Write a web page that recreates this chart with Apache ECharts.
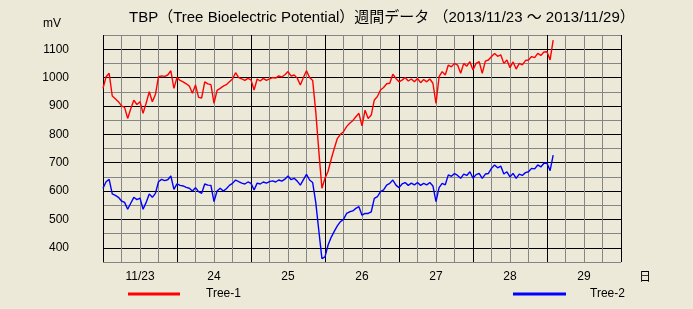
<!DOCTYPE html>
<html><head><meta charset="utf-8">
<script src="https://cdn.jsdelivr.net/npm/echarts@6/dist/echarts.min.js"></script>
<style>html,body{margin:0;padding:0;background:#ECE9D8}#c{width:693px;height:309px}</style>
</head><body><div id="c"></div>
<script>
// x labels: one per day band
const dayLabels = ['11/23', '24', '25', '26', '27', '28', '29'];
// y tick labels (mV)
const yTicks = [400, 500, 600, 700, 800, 900, 1000, 1100];
// hourly readings starting 11/23 00:00
const tree1 = [
  962,1003,1015,935,925,915,900,895,856,890,
  920,905,915,874,910,950,915,940,1003,1006,
  1004,1009,1024,962,1000,990,985,978,970,945,
  974,930,928,985,978,975,909,955,962,970,
  975,985,995,1017,1000,995,990,997,992,956,
  995,988,997,990,995,1000,998,1006,1002,1010,
  1021,1005,1009,998,974,1000,1024,1000,990,880,
  740,610,645,670,712,750,785,800,809,827,
  839,848,862,874,830,885,856,868,921,933,
  956,965,978,980,1012,997,985,991,1000,988,
  995,985,997,982,993,985,995,980,909,1003,
  1021,1009,1044,1038,1050,1044,1015,1050,1040,1056,
  1027,1050,1056,1015,1058,1062,1074,1085,1075,1080,
  1050,1062,1035,1055,1030,1050,1045,1060,1062,1074,
  1070,1085,1078,1090,1091,1062,1132
];
const tree2 = [
  610,633,641,590,585,578,565,560,536,557,
  578,570,575,536,560,590,578,592,633,641,
  637,640,653,606,625,620,618,613,610,600,
  612,598,592,625,621,620,563,600,610,600,
  608,620,627,639,633,628,625,632,627,604,
  628,625,632,628,633,636,632,639,635,642,
  653,640,645,635,621,640,659,639,630,560,
  460,362,368,410,437,458,477,492,500,521,
  527,530,539,545,515,521,521,527,574,580,
  598,604,621,627,639,621,612,625,630,620,
  628,622,630,620,627,622,630,618,563,612,
  627,622,657,652,662,655,645,660,655,668,
  645,658,662,645,660,662,680,692,682,688,
  660,668,650,662,645,660,655,665,668,680,
  678,692,685,698,698,672,727
];

const FONT = '"Liberation Sans", Arial, "Noto Sans CJK JP", sans-serif';
const GRAY = '#858585';
const chart = echarts.init(document.getElementById('c'));
chart.setOption({
  animation: false,
  backgroundColor: '#ECE9D8',
  textStyle: { fontFamily: FONT },
  title: {
    text: 'TBP（Tree Bioelectric Potential）週間データ （2013/11/23 ～ 2013/11/29）',
    left: 124, top: 5,
    textStyle: { fontFamily: FONT, fontSize: 15, fontWeight: 'normal', color: '#000' }
  },
  legend: [
    { left: 123, top: 283, itemWidth: 52, itemHeight: 3, icon: 'rect', data: ['Tree-1'],
      textStyle: { fontFamily: FONT, fontSize: 12, color: '#000', padding: [0, 0, 0, 21] } },
    { left: 508, top: 283, itemWidth: 53, itemHeight: 3, icon: 'rect', data: ['Tree-2'],
      textStyle: { fontFamily: FONT, fontSize: 12, color: '#000', padding: [0, 0, 0, 19] } }
  ],
  graphic: [
    { type: 'text', left: 43, top: 18, style: { text: 'mV', font: '12px ' + FONT, fill: '#000' } },
    { type: 'text', left: 639, top: 270, style: { text: '日', font: '12px "Noto Sans CJK JP"', fill: '#000' } }
  ],
  grid: { left: 103, top: 35, width: 518, height: 227, containLabel: false },
  xAxis: {
    type: 'value', min: 0, max: 168, interval: 6,
    axisLine: { show: false }, axisTick: { show: false },
    splitLine: { show: true, lineStyle: { color: ['#000', GRAY, GRAY, GRAY], width: 1 } },
    axisLabel: {
      margin: 9, fontSize: 12, color: '#000', fontFamily: FONT,
      formatter: function (v) { return (v % 24 === 12) ? dayLabels[(v - 12) / 24] : ''; }
    }
  },
  yAxis: {
    type: 'value', min: 350, max: 1150, interval: 50,
    axisLine: { show: false }, axisTick: { show: false },
    splitLine: { show: true, lineStyle: { color: [GRAY, '#000'], width: 1 } },
    axisLabel: {
      margin: 34, fontSize: 12, color: '#000', fontFamily: FONT, padding: [4, 0, 0, 0],
      formatter: function (v) { return yTicks.indexOf(v) >= 0 ? String(v) : ''; }
    }
  },
  series: [
    { name: 'Tree-1', type: 'line', showSymbol: false, color: '#ff0000',
      lineStyle: { width: 1.4, color: '#ff0000' },
      data: tree1.map(function (v, i) { return [i, v]; }) },
    { name: 'Tree-2', type: 'line', showSymbol: false, color: '#0000ff',
      lineStyle: { width: 1.4, color: '#0000ff' },
      data: tree2.map(function (v, i) { return [i, v]; }) }
  ]
});
</script>
</body></html>
